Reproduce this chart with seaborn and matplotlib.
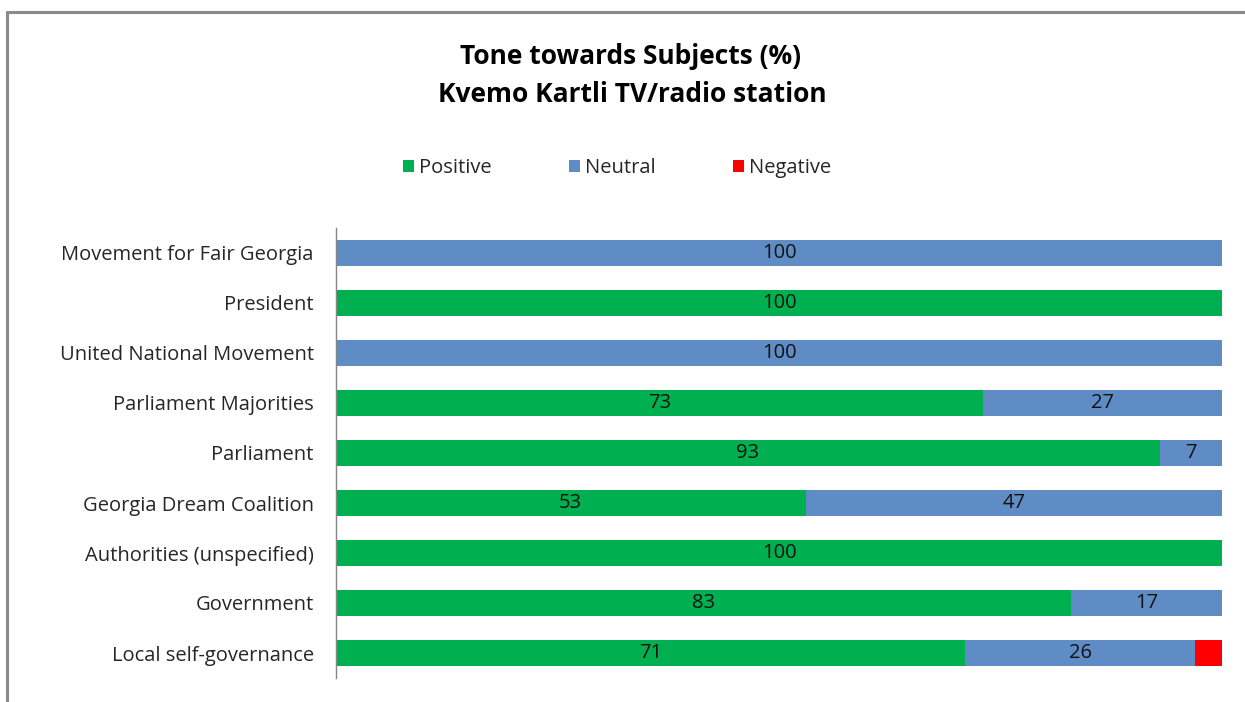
import matplotlib
matplotlib.use("Agg")
import matplotlib.pyplot as plt
from matplotlib.lines import Line2D
from matplotlib.patches import Patch
import numpy as np
import pandas as pd
import seaborn as sns

# Tone shares (%) per subject, top to bottom
subjects = [
    "Movement for Fair Georgia",
    "President",
    "United National Movement",
    "Parliament Majorities",
    "Parliament",
    "Georgia Dream Coalition",
    "Authorities (unspecified)",
    "Government",
    "Local self-governance",
]
positive = [0, 100, 0, 73, 93, 53, 100, 83, 71]
neutral = [100, 0, 100, 27, 7, 47, 0, 17, 26]
negative = [0, 0, 0, 0, 0, 0, 0, 0, 3]

series_names = ["Positive", "Neutral", "Negative"]
colors = {"Positive": "#00B050", "Neutral": "#5F8CC4", "Negative": "#FF0000"}

sns.set_theme(style="white")
plt.rcParams["font.family"] = ["Open Sans", "DejaVu Sans"]

LABEL_SIZE = 14.5
TITLE_SIZE = 19

df = pd.DataFrame({"subject": subjects, "Positive": positive,
                   "Neutral": neutral, "Negative": negative})
df["cum_pos"] = df["Positive"]
df["cum_neu"] = df["Positive"] + df["Neutral"]
df["cum_neg"] = df["cum_neu"] + df["Negative"]

fig = plt.figure(figsize=(12.45, 7.02), dpi=100)
ax = fig.add_axes([336 / 1245, 1 - 678 / 702, (1222 - 336) / 1245, 450 / 702])

# stacked bars: draw cumulative totals from the widest layer down
for col, name in [("cum_neg", "Negative"), ("cum_neu", "Neutral"), ("cum_pos", "Positive")]:
    sns.barplot(data=df, x=col, y="subject", order=subjects, orient="h",
                color=colors[name], width=0.52, saturation=1, ax=ax,
                edgecolor="none", linewidth=0)

# value labels centred in each segment
for i, row in df.iterrows():
    if row["Positive"] > 0:
        ax.text(row["Positive"] / 2, i, f"{row['Positive']}", ha="center",
                va="center", fontsize=LABEL_SIZE, color="#111111")
    if row["Neutral"] > 0:
        ax.text(row["Positive"] + row["Neutral"] / 2, i, f"{row['Neutral']}",
                ha="center", va="center", fontsize=LABEL_SIZE, color="#111111")

ax.set_xlim(0, 100)
ax.set_ylim(8.5, -0.5)
ax.set_xlabel("")
ax.set_ylabel("")
ax.set_xticks([])
ax.tick_params(axis="y", length=0, pad=16, labelsize=LABEL_SIZE, colors="#262626")
for s in ["top", "right", "bottom"]:
    ax.spines[s].set_visible(False)
ax.spines["left"].set_color("#868686")
ax.spines["left"].set_linewidth(1.0)

# titles
fig.text(630 / 1245, 1 - 56 / 702, "Tone towards Subjects (%)", ha="center",
         va="center", fontsize=TITLE_SIZE, fontweight="bold", color="black")
fig.text(632 / 1245, 1 - 95 / 702, "Kvemo Kartli TV/radio station", ha="center",
         va="center", fontsize=TITLE_SIZE, fontweight="bold", color="black")

# legend
handles = [Patch(facecolor=colors[n], edgecolor="none", label=n) for n in series_names]
fig.legend(handles=handles, loc="center", bbox_to_anchor=(617 / 1245, 1 - 168 / 702),
           ncol=3, frameon=False, fontsize=LABEL_SIZE, handlelength=0.55, handleheight=0.55,
           handletextpad=0.25, columnspacing=3.85, labelcolor="#262626")

# chart frame (left and top edges)
frame_color = "#8a8a8a"
fig.add_artist(Line2D([7 / 1245, 7 / 1245], [0, 1 - 12 / 702], transform=fig.transFigure,
                      color=frame_color, linewidth=2.2))
fig.add_artist(Line2D([7 / 1245, 1], [1 - 12 / 702, 1 - 12 / 702], transform=fig.transFigure,
                      color=frame_color, linewidth=2.2))

fig.savefig("out.png", dpi=100)
